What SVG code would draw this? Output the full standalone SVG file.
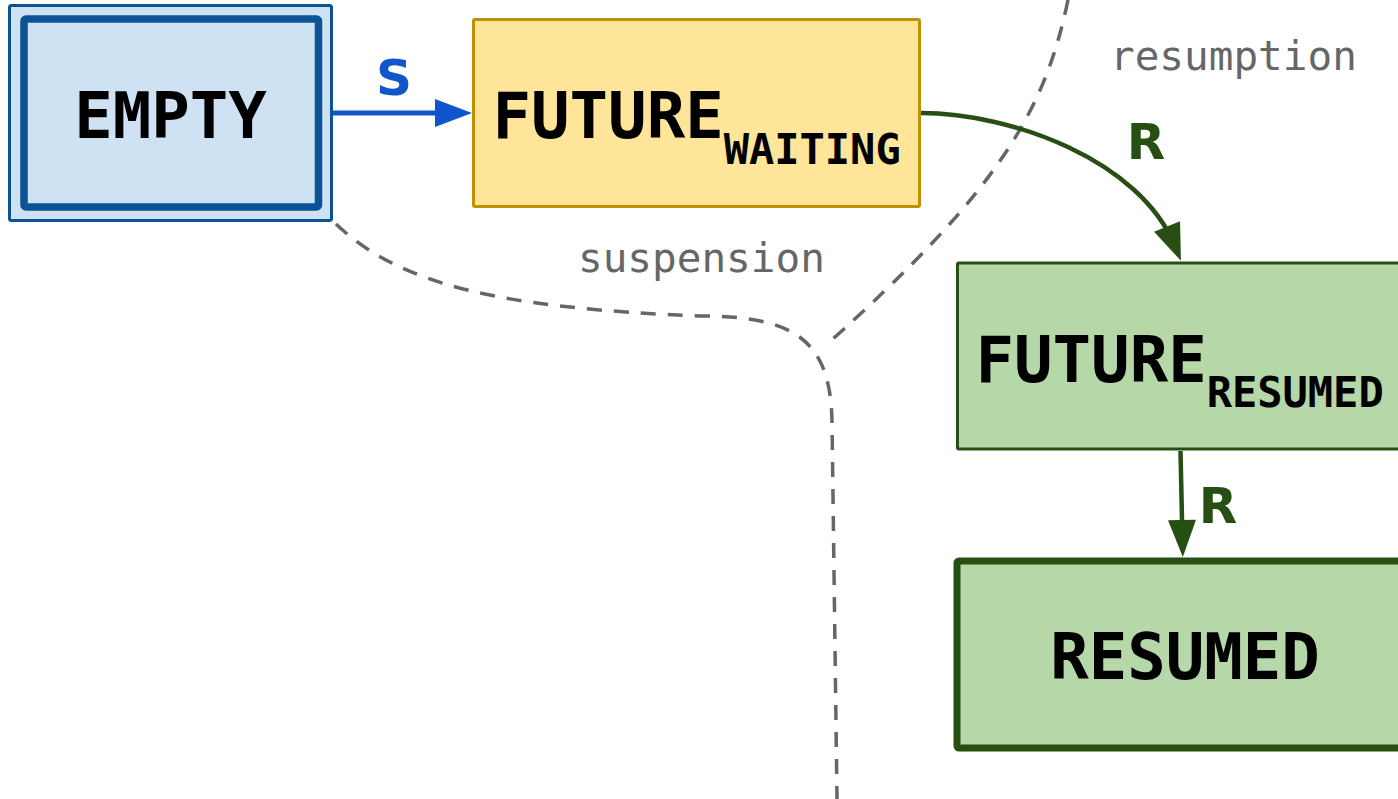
<svg xmlns="http://www.w3.org/2000/svg" width="1398" height="799" viewBox="0 0 1398 799">
<style>
.node-text{font-family:"DejaVu Sans Mono","Liberation Mono",monospace;font-weight:bold;font-size:64px;fill:#000}
.sub{font-size:42px}
.edge-label{font-family:"DejaVu Sans","Liberation Sans",sans-serif;font-weight:bold;font-size:50px;text-anchor:middle}
.region{font-family:"DejaVu Sans Mono","Liberation Mono",monospace;font-size:41px;fill:#666666}
.dash{fill:none;stroke:#666666;stroke-width:3.5;stroke-dasharray:15 12}
</style>
<defs>
<marker id="arrow-blue" markerUnits="userSpaceOnUse" markerWidth="37" markerHeight="28" refX="22" refY="14" orient="auto" overflow="visible">
<path d="M0,0 L37,14 L0,28 z" fill="#1155cc"/>
</marker>
<marker id="arrow-green" markerUnits="userSpaceOnUse" markerWidth="37" markerHeight="28" refX="22" refY="14" orient="auto" overflow="visible">
<path d="M0,0 L37,14 L0,28 z" fill="#274e13"/>
</marker>
</defs>
<rect width="1398" height="799" fill="#ffffff"/>

<g id="boundaries">
<path class="dash" d="M336 224 C400 285 500 308 700 316 C795 316 830 340 832 420 L837 799"/>
<path class="dash" d="M1068 0 C1045 110 1000 190 825 346"/>
<text class="region" x="578" y="272">suspension</text>
<text class="region" x="1110" y="70">resumption</text>
</g>

<g id="node-empty">
<rect x="9.5" y="5.5" width="322" height="215" rx="2" fill="#cfe2f3" stroke="#0b5394" stroke-width="3"/>
<rect x="24" y="19" width="294.5" height="188" rx="2" fill="#cfe2f3" stroke="#0b5394" stroke-width="7.5"/>
<text class="node-text" x="170.5" y="138" text-anchor="middle">EMPTY</text>
</g>

<g id="node-future-waiting">
<rect x="473.5" y="19.5" width="446" height="187" rx="1.5" fill="#ffe599" stroke="#bf9000" stroke-width="3"/>
<text class="node-text" x="492.5" y="138">FUTURE<tspan class="sub" y="164">WAITING</tspan></text>
</g>

<g id="node-future-resumed">
<rect x="957.5" y="263" width="470" height="186" rx="1.5" fill="#b6d7a8" stroke="#274e13" stroke-width="3"/>
<text class="node-text" x="975.5" y="382">FUTURE<tspan class="sub" y="407">RESUMED</tspan></text>
</g>

<g id="node-resumed">
<rect x="957" y="561" width="470" height="187" rx="2" fill="#b6d7a8" stroke="#274e13" stroke-width="7"/>
<text class="node-text" x="1185" y="679" text-anchor="middle">RESUMED</text>
</g>

<g id="connectors">
<path d="M333 113 L457 113" fill="none" stroke="#1155cc" stroke-width="5" marker-end="url(#arrow-blue)"/>
<text class="edge-label" x="394" y="95" fill="#1155cc">S</text>
<path d="M921 113 C1010.3 113 1140.2 159.9 1175.3 246.9" fill="none" stroke="#274e13" stroke-width="4.5" marker-end="url(#arrow-green)"/>
<text class="edge-label" x="1146" y="159" fill="#274e13">R</text>
<path d="M1180.5 451 L1182.5 542" fill="none" stroke="#274e13" stroke-width="4.5" marker-end="url(#arrow-green)"/>
<text class="edge-label" x="1218" y="523" fill="#274e13">R</text>
</g>
</svg>
